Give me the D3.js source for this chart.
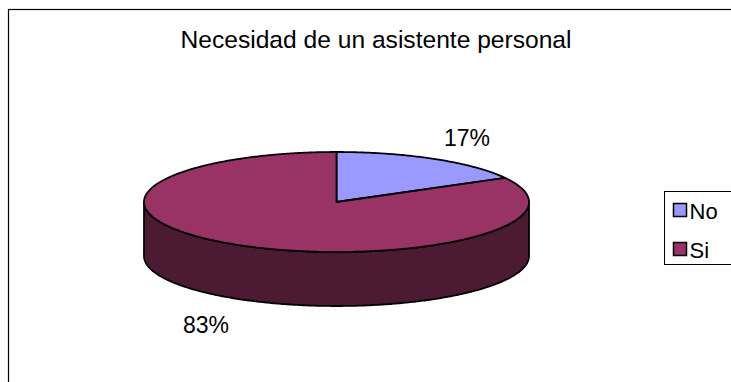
<!DOCTYPE html>
<html>
<head>
<meta charset="utf-8">
<script src="https://cdn.jsdelivr.net/npm/d3@7"></script>
<style>
  html, body { margin: 0; padding: 0; background: #fff; }
  svg { display: block; }
  text { font-family: "Liberation Sans", Arial, sans-serif; fill: #000; }
</style>
</head>
<body>
<svg id="chart" width="731" height="382"></svg>
<script>
// Chart data
const title = "Necesidad de un asistente personal";
const categories = ["No", "Si"];
const values = [17, 83];
const topColors = ["#9999FF", "#993366"];
const sideColors = ["#4C4C80", "#4C1A33"];

const svg = d3.select("#chart");

// Outer chart frame (extends past the right and bottom edges)
svg.append("rect")
  .attr("x", 8.5).attr("y", 9.5)
  .attr("width", 740).attr("height", 400)
  .attr("fill", "#fff").attr("stroke", "#000").attr("stroke-width", 1.2);

svg.append("text")
  .attr("x", 376).attr("y", 48)
  .attr("text-anchor", "middle")
  .attr("font-size", 24.6)
  .text(title);

// 3D pie geometry
const cx = 336.5, cy = 202, rx = 192.5, ry = 50, depth = 54;
const pie = d3.pie().sort(null).value(d => d);
const arcs = pie(values);

const pt = (a, dy = 0) => [cx + rx * Math.sin(a), cy - ry * Math.cos(a) + dy];
const sample = (a0, a1, dy = 0) => {
  const n = Math.max(2, Math.ceil(Math.abs(a1 - a0) / 0.01));
  return d3.range(n + 1).map(i => pt(a0 + (a1 - a0) * i / n, dy));
};
const line = d3.line();

const g = svg.append("g");

// Side walls: only the front half of the rim (angles between π/2 and 3π/2) is visible
arcs.forEach((d, i) => {
  const a0 = Math.max(d.startAngle, Math.PI / 2);
  const a1 = Math.min(d.endAngle, 3 * Math.PI / 2);
  if (a1 <= a0) return;
  const pts = sample(a0, a1).concat(sample(a1, a0, depth));
  g.append("path")
    .attr("d", line(pts) + "Z")
    .attr("fill", sideColors[i])
    .attr("stroke", "#000").attr("stroke-width", 1.8)
    .attr("stroke-linejoin", "round");
});

// Top faces
arcs.forEach((d, i) => {
  const pts = [[cx, cy]].concat(sample(d.startAngle, d.endAngle));
  g.append("path")
    .attr("d", line(pts) + "Z")
    .attr("fill", topColors[i])
    .attr("stroke", "#000").attr("stroke-width", 1.8)
    .attr("stroke-linejoin", "round");
});

// Percentage labels
const fmt = v => v + "%";
const labelPos = [[467, 146], [206, 333]];
arcs.forEach((d, i) => {
  svg.append("text")
    .attr("x", labelPos[i][0]).attr("y", labelPos[i][1])
    .attr("text-anchor", "middle")
    .attr("font-size", 23)
    .text(fmt(values[i]));
});

// Legend
const lg = svg.append("g");
lg.append("rect")
  .attr("x", 664.5).attr("y", 191.5)
  .attr("width", 80).attr("height", 73)
  .attr("fill", "#fff").attr("stroke", "#000").attr("stroke-width", 1);
const ly = d3.scalePoint().domain(categories).range([210, 249]);
categories.forEach((c, i) => {
  lg.append("rect")
    .attr("x", 673.5).attr("y", ly(c) - 6.5)
    .attr("width", 13).attr("height", 13)
    .attr("fill", topColors[i]).attr("stroke", "#000").attr("stroke-width", 1.5);
  lg.append("text")
    .attr("x", 689.5).attr("y", ly(c) + 8.5)
    .attr("font-size", 22)
    .text(c);
});
</script>
</body>
</html>
